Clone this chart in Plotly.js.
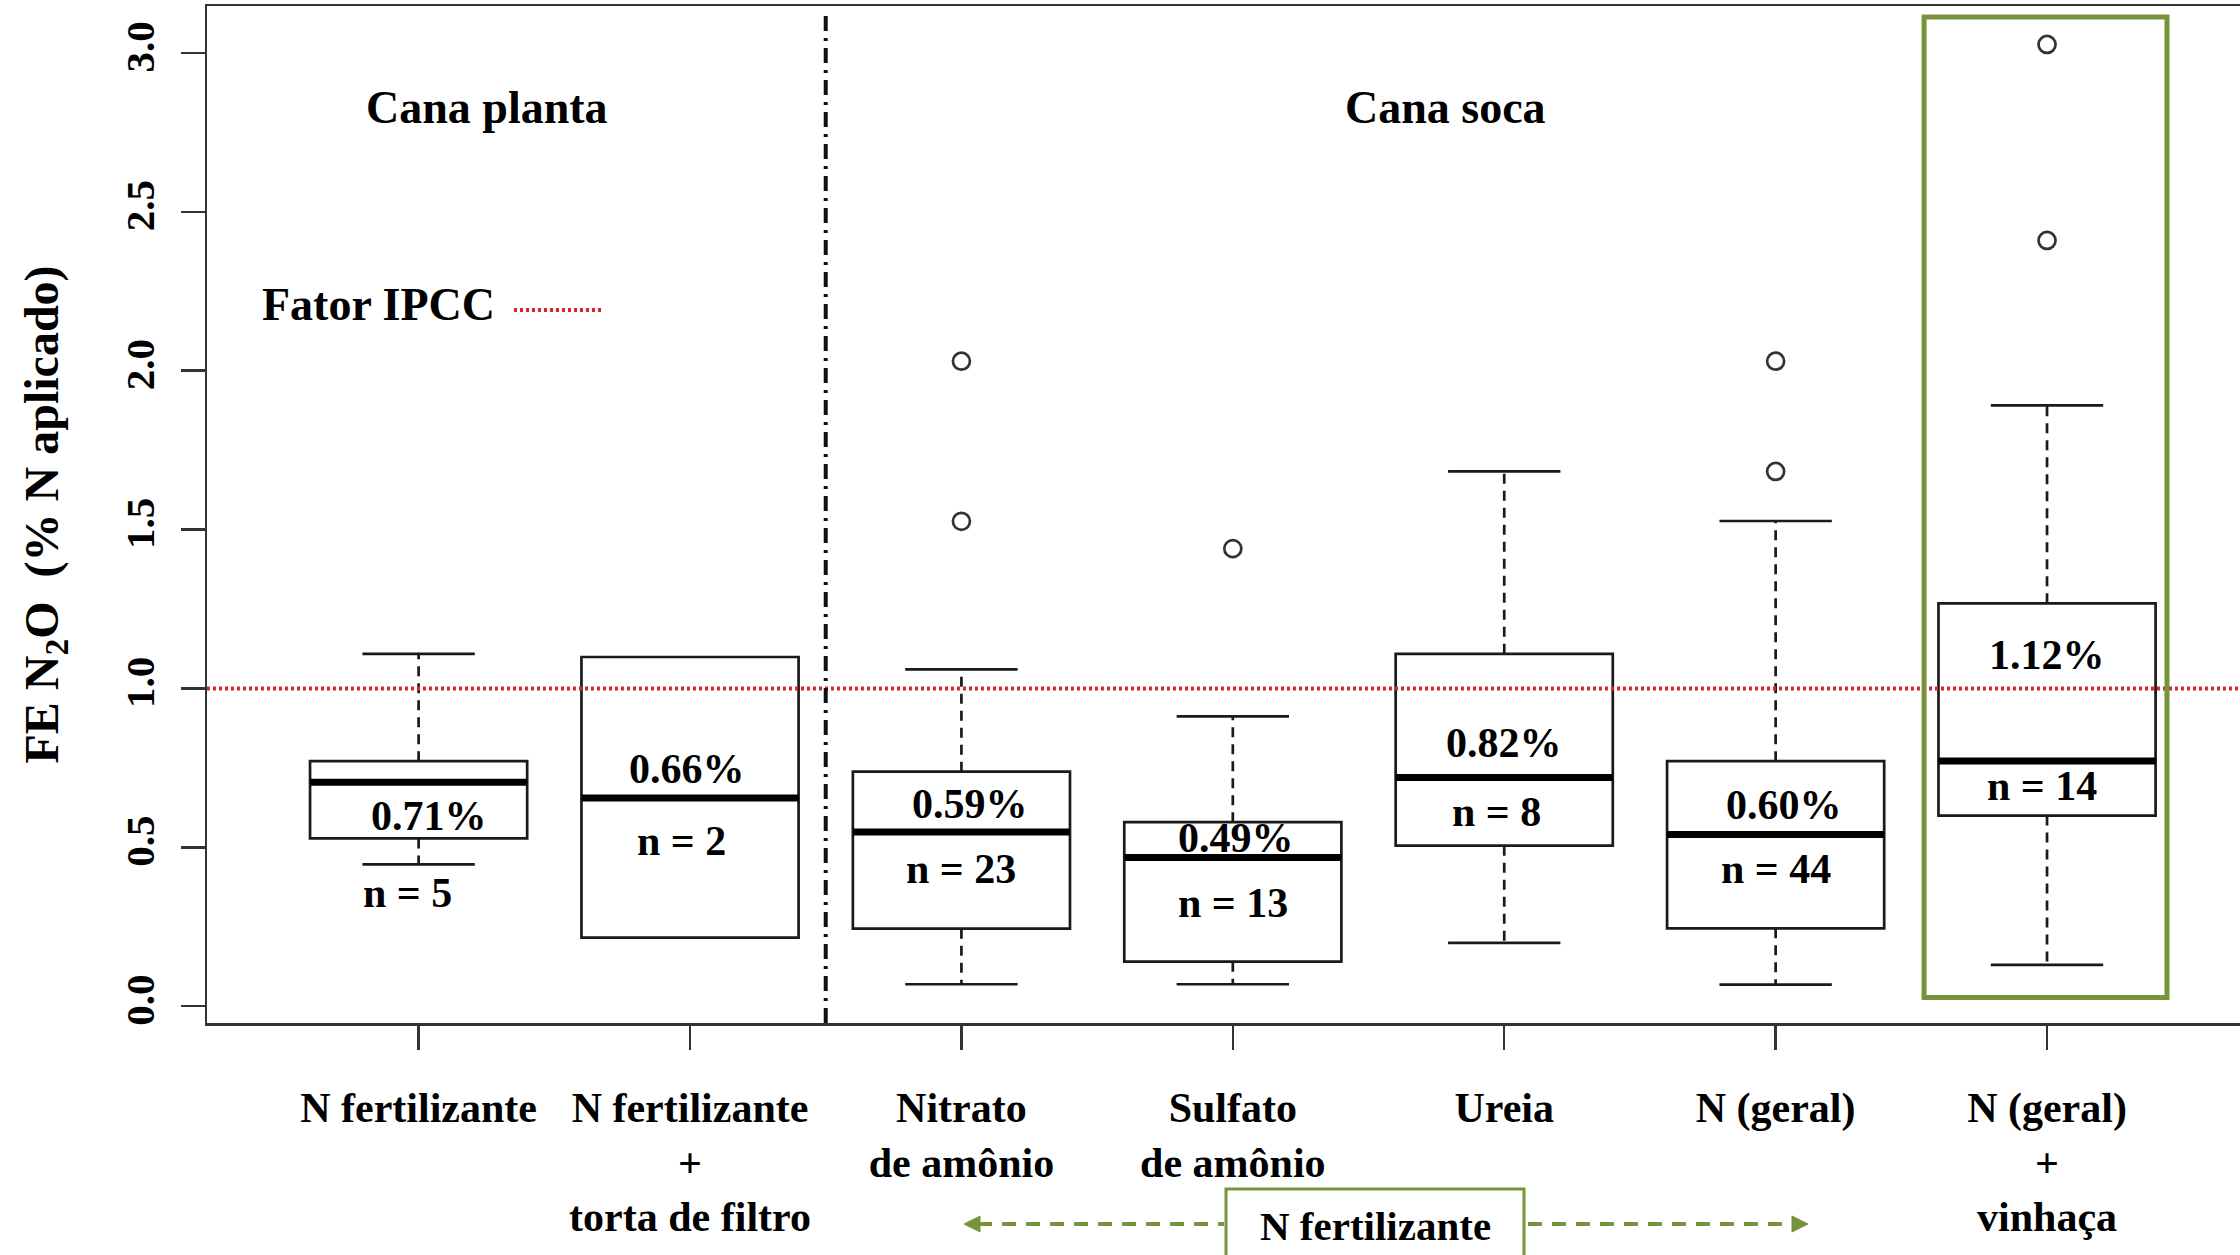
<!DOCTYPE html>
<html>
<head>
<meta charset="utf-8">
<script src="https://cdn.plot.ly/plotly-3.0.1.min.js"></script>
<style>
html,body{margin:0;padding:0;background:#fff;}
#chart{width:2240px;height:1255px;}
</style>
</head>
<body>
<div id="chart"></div>
<script>
// ---------------- data ----------------
const categories = [
  "N fertilizante",
  "N fertilizante<br>+<br>torta de filtro",
  "Nitrato<br>de amônio",
  "Sulfato<br>de amônio",
  "Ureia",
  "N (geral)",
  "N (geral)<br>+<br>vinhaça"
];
const positions = [1, 2, 3, 4, 5, 6, 7];
const q1      = [0.528, 0.216, 0.244, 0.140, 0.505, 0.245, 0.600];
const median  = [0.705, 0.655, 0.548, 0.468, 0.720, 0.540, 0.772];
const q3      = [0.771, 1.099, 0.738, 0.579, 1.109, 0.771, 1.268];
const whiskerLow  = [0.446, null, 0.069, 0.069, 0.199, 0.068, 0.130];
const whiskerHigh = [1.109, null, 1.060, 0.912, 1.683, 1.527, 1.891];
const outliers = [[], [], [2.03, 1.526], [1.44], [], [2.03, 1.683], [3.027, 2.41]];
const emissionLabels = ["0.71%", "0.66%", "0.59%", "0.49%", "0.82%", "0.60%", "1.12%"];
const nObs = [5, 2, 23, 13, 8, 44, 14];
const ipccFactor = 1.0;
const yTickVals = [0, 0.5, 1.0, 1.5, 2.0, 2.5, 3.0];
const groupTitles = ["Cana planta", "Cana soca"];

// ---------------- layout / style ----------------
const W = 2240, H = 1255;
const M = {l: 207, r: 0, t: 6, b: 232};
const plotW = W - M.l - M.r, plotH = H - M.t - M.b;
const px2x = px => (px - M.l) / plotW;          // pixel -> paper x
const px2y = py => (H - M.b - py) / plotH;      // pixel -> paper y

const FONT = "Liberation Serif, Times New Roman, serif";
const BLACK = "#1a1a1a";
const GREEN = "#77933C";
const RED = "#dc2430";
const boxHalf = 0.4;
const capHalf = 0.207;
// label placement (y in data units, x offset in category units)
const emisLabelY  = [0.598, 0.748, 0.636, 0.529, 0.828, 0.634, 1.106];
const emisLabelDx = [0.04, -0.01, 0.03, 0.01, 0.0, 0.03, 0.0];
const nLabelY  = [0.357, 0.521, 0.432, 0.326, 0.612, 0.433, 0.692];
const nLabelDx = [-0.04, -0.03, 0.0, 0.0, -0.03, 0.0, -0.02];

// ---------------- traces ----------------
const boxTrace = {
  type: "box",
  x: positions,
  q1: q1, median: median, q3: q3,
  lowerfence: q1, upperfence: q3,
  width: 2 * boxHalf,
  whiskerwidth: 0,
  boxpoints: false,
  fillcolor: "#ffffff",
  line: {color: BLACK, width: 2.7},
  hoverinfo: "skip"
};

const medX = [], medY = [];
const whX = [], whY = [];
const capX = [], capY = [];
const outX = [], outY = [];
positions.forEach((p, i) => {
  medX.push(p - boxHalf, p + boxHalf, null);
  medY.push(median[i], median[i], null);
  if (whiskerHigh[i] !== null) {
    whX.push(p, p, null); whY.push(q3[i], whiskerHigh[i], null);
    capX.push(p - capHalf, p + capHalf, null); capY.push(whiskerHigh[i], whiskerHigh[i], null);
  }
  if (whiskerLow[i] !== null) {
    whX.push(p, p, null); whY.push(q1[i], whiskerLow[i], null);
    capX.push(p - capHalf, p + capHalf, null); capY.push(whiskerLow[i], whiskerLow[i], null);
  }
  outliers[i].forEach(v => { outX.push(p); outY.push(v); });
});

const medianTrace = {type: "scatter", mode: "lines", x: medX, y: medY,
  line: {color: "#000", width: 7}, hoverinfo: "skip"};
const whiskerTrace = {type: "scatter", mode: "lines", x: whX, y: whY,
  line: {color: BLACK, width: 2.7, dash: "10px,7px"}, hoverinfo: "skip"};
const capTrace = {type: "scatter", mode: "lines", x: capX, y: capY,
  line: {color: BLACK, width: 2.7}, hoverinfo: "skip"};
const outlierTrace = {type: "scatter", mode: "markers", x: outX, y: outY,
  marker: {symbol: "circle-open", size: 17, color: "#333", line: {width: 2.7, color: "#333"}},
  hoverinfo: "skip"};

// ---------------- annotations ----------------
const annotations = [];
const ann = (text, x, y, size, extra) => Object.assign({
  text: "<b>" + text + "</b>", x: x, y: y, xref: "x", yref: "y",
  showarrow: false, font: {family: FONT, size: size, color: "#000"},
  xanchor: "center", yanchor: "middle"
}, extra || {});

annotations.push(ann(groupTitles[0], 1.252, 2.83, 46));
annotations.push(ann(groupTitles[1], 4.785, 2.83, 46));
annotations.push(ann("Fator IPCC", 0.415, 2.208, 46, {xanchor: "left"}));
positions.forEach((p, i) => {
  annotations.push(ann(emissionLabels[i], p + emisLabelDx[i], emisLabelY[i], 42));
  annotations.push(ann("n = " + nObs[i], p + nLabelDx[i], nLabelY[i], 42));
});
annotations.push({
  text: "<b>N fertilizante</b>", xref: "paper", yref: "paper",
  x: px2x(1375), y: px2y(1226), showarrow: false,
  font: {family: FONT, size: 41, color: "#000"}, xanchor: "center", yanchor: "middle"
});

// ---------------- shapes ----------------
const tri = (pts) => "M " + pts.map(p => px2x(p[0]) + "," + px2y(p[1])).join(" L ") + " Z";
const shapes = [
  // IPCC reference line
  {type: "line", xref: "paper", x0: 0, x1: 1, yref: "y", y0: ipccFactor, y1: ipccFactor,
   line: {color: RED, width: 4, dash: "3px,3px"}, layer: "above"},
  // separator Cana planta / Cana soca
  {type: "line", xref: "x", x0: 2.5, x1: 2.5, yref: "paper", y0: 0, y1: 0.995,
   line: {color: "#111", width: 4, dash: "15px,7px,3px,7px"}, layer: "above"},
  // highlight around vinhaça box
  {type: "rect", xref: "x", yref: "y", x0: 6.547, x1: 7.442, y0: 0.027, y1: 3.113,
   line: {color: GREEN, width: 5}, layer: "above"},
  // legend sample of the IPCC line
  {type: "line", xref: "paper", yref: "paper", x0: px2x(514), x1: px2x(604), y0: px2y(310), y1: px2y(310),
   line: {color: RED, width: 4, dash: "3px,3px"}},
  // bottom "N fertilizante" box
  {type: "rect", xref: "paper", yref: "paper", x0: px2x(1226), x1: px2x(1524), y0: px2y(1189), y1: px2y(1262),
   line: {color: GREEN, width: 3}, fillcolor: "#ffffff"},
  // dashed arrows
  {type: "line", xref: "paper", yref: "paper", x0: px2x(978), x1: px2x(1224), y0: px2y(1224), y1: px2y(1224),
   line: {color: GREEN, width: 4, dash: "14px,10px"}},
  {type: "line", xref: "paper", yref: "paper", x0: px2x(1528), x1: px2x(1794), y0: px2y(1224), y1: px2y(1224),
   line: {color: GREEN, width: 4, dash: "14px,10px"}},
  {type: "path", xref: "paper", yref: "paper", path: tri([[964, 1224], [980, 1216], [980, 1232]]),
   fillcolor: GREEN, line: {color: GREEN, width: 1}},
  {type: "path", xref: "paper", yref: "paper", path: tri([[1808, 1224], [1792, 1216], [1792, 1232]]),
   fillcolor: GREEN, line: {color: GREEN, width: 1}}
];

// ---------------- layout ----------------
const layout = {
  width: W, height: H,
  margin: M,
  paper_bgcolor: "#ffffff", plot_bgcolor: "#ffffff",
  showlegend: false,
  font: {family: FONT, color: "#000"},
  xaxis: {
    type: "linear", range: [0.2203, 7.711],
    tickmode: "array", tickvals: positions, ticktext: categories.map(c => "<b>" + c + "</b>"),
    tickfont: {family: FONT, size: 42, color: "#000"},
    ticks: "outside", ticklen: 24, tickwidth: 2.5, tickcolor: "#333",
    ticklabelstandoff: 22,
    showline: true, linecolor: "#333", linewidth: 2.5, mirror: true,
    showgrid: false, zeroline: false, automargin: false, fixedrange: true
  },
  yaxis: {
    range: [-0.053, 3.148],
    tickmode: "array", tickvals: yTickVals, ticktext: yTickVals.map(v => "<b>" + v.toFixed(1) + "</b>"),
    tickangle: -90,
    tickfont: {family: FONT, size: 41, color: "#000"},
    ticks: "outside", ticklen: 24, tickwidth: 2.5, tickcolor: "#333",
    ticklabelstandoff: 10,
    showline: true, linecolor: "#333", linewidth: 2.5, mirror: false,
    showgrid: false, zeroline: false, automargin: false, fixedrange: true,
    title: {text: "<b>FE N<sub>2</sub>O\u00a0\u00a0(% N aplicado)</b>",
            font: {family: FONT, size: 48, color: "#000"}, standoff: 44}
  },
  annotations: annotations,
  shapes: shapes
};

Plotly.newPlot("chart", [boxTrace, whiskerTrace, capTrace, medianTrace, outlierTrace], layout,
  {displayModeBar: false, staticPlot: true});
</script>
</body>
</html>
